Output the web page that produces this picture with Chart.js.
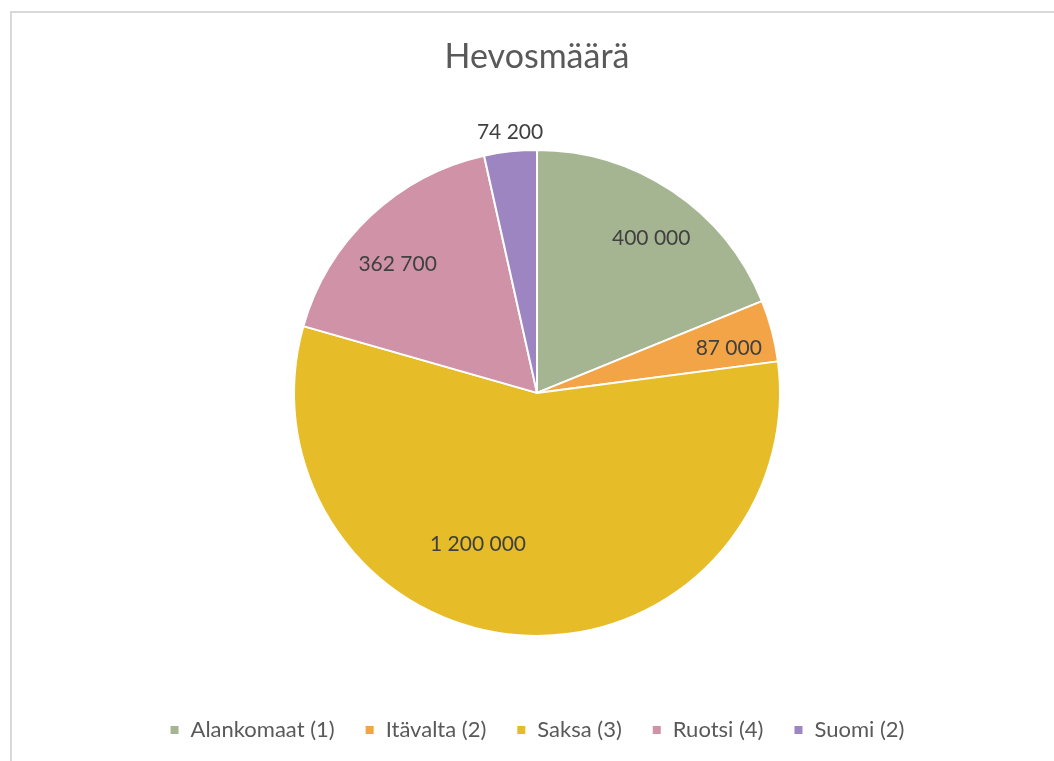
<!DOCTYPE html>
<html>
<head>
<meta charset="utf-8">
<script src="https://cdn.jsdelivr.net/npm/chart.js@4.4.0/dist/chart.umd.min.js"></script>
<style>
	html, body { margin: 0; padding: 0; background: #fff; overflow: hidden; }
	#wrap { position: relative; width: 1054px; height: 761px; }
	#frame { position: absolute; left: 10px; top: 11px; width: 1100px; height: 800px; border: 2px solid #d9d9d9; box-sizing: border-box; }
	#chart-box { position: absolute; left: 0; top: 0; width: 1054px; height: 761px; }
</style>
</head>
<body>
<div id="wrap">
	<div id="frame"></div>
	<div id="chart-box"><canvas id="pie-chartcanvas"></canvas></div>
</div>
<script>
var countries = ["Alankomaat (1)", "Itävalta (2)", "Saksa (3)", "Ruotsi (4)", "Suomi (2)"];
var horses = [400000, 87000, 1200000, 362700, 74200];
var sliceColors = ["#A5B592", "#F3A447", "#E7BC29", "#D092A7", "#9C85C0"];

// label placement like excel's "best fit": radius factor + small angle shift (deg)
var labelRadius = [0.79, 0.81, 0.67, 0.78, 1.08];
var labelShift = [2.6, 1.8, 17, -4, 0.4];

function fmt(n) {
	return String(n).replace(/\B(?=(\d{3})+(?!\d))/g, " ");
}

var valueLabels = {
	id : "valueLabels",
	afterDatasetsDraw : function(chart) {
		var ctx = chart.ctx;
		var meta = chart.getDatasetMeta(0);
		ctx.save();
		ctx.font = "21px Lato";
		ctx.fillStyle = "#404040";
		ctx.textAlign = "center";
		ctx.textBaseline = "middle";
		meta.data.forEach(function(arc, i) {
			var p = arc.getProps(["x", "y", "startAngle", "endAngle", "outerRadius"], true);
			var mid = (p.startAngle + p.endAngle) / 2 + labelShift[i] * Math.PI / 180;
			var r = p.outerRadius * labelRadius[i];
			ctx.fillText(fmt(horses[i]), p.x + Math.cos(mid) * r, p.y + Math.sin(mid) * r);
		});
		ctx.restore();
	}
};

var ctx = document.getElementById("pie-chartcanvas");

var chart = new Chart(ctx, {
	type : "pie",
	data : {
		labels : countries,
		datasets : [{
			data : horses,
			backgroundColor : sliceColors,
			borderColor : "#fff",
			borderWidth : 2,
			hoverOffset : 0
		}]
	},
	options : {
		responsive : true,
		maintainAspectRatio : false,
		animation : false,
		radius : 243,
		layout : {
			padding : { left : 20, right : 0, top : 0, bottom : 10 }
		},
		plugins : {
			title : {
				display : true,
				text : "Hevosmäärä",
				color : "#595959",
				font : { family : "Lato", size : 34, weight : "normal" },
				padding : { top : 37, bottom : 19 }
			},
			legend : {
				display : true,
				position : "bottom",
				labels : {
					color : "#595959",
					font : { family : "Lato", size : 22 },
					boxWidth : 10,
					boxHeight : 10,
					padding : 30
				}
			},
			tooltip : { enabled : false }
		}
	},
	plugins : [valueLabels]
});
</script>
</body>
</html>
